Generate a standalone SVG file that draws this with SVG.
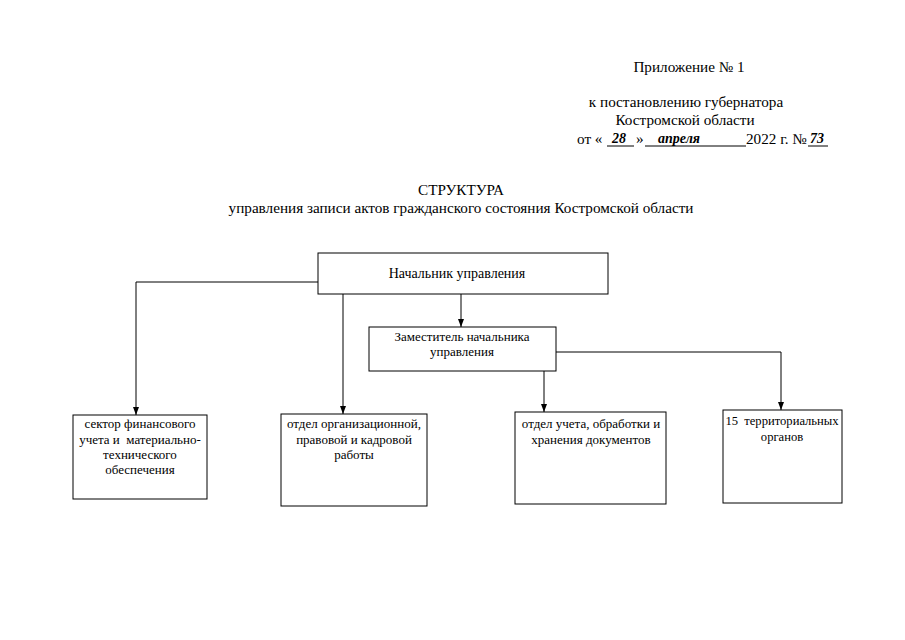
<svg xmlns="http://www.w3.org/2000/svg" width="905" height="640" viewBox="0 0 905 640" font-family="'Liberation Serif', 'Times New Roman', serif">
<style>
text{font-family:'Liberation Serif','Times New Roman',serif;fill:#000}
.h{font-size:15.2px}
.b{font-size:13px}
.hw{font-family:'Liberation Serif',serif;font-style:italic;font-size:14px;font-weight:bold}
.box{fill:#fff;stroke:#000;stroke-width:1}
.ln{fill:none;stroke:#000;stroke-width:1}
</style>
<defs>
<marker id="ar" viewBox="0 0 8 6" refX="8" refY="3" markerWidth="8" markerHeight="6" orient="auto" markerUnits="userSpaceOnUse">
<path d="M0,0 L8,3 L0,6 Z" fill="#000"/>
</marker>
</defs>
<rect width="905" height="640" fill="#fff"/>
<g id="header">
<text class="h" x="689" y="72" text-anchor="middle">Приложение № 1</text>
<text class="h" x="686" y="107" text-anchor="middle">к постановлению губернатора</text>
<text class="h" x="685" y="125" text-anchor="middle">Костромской области</text>
<text class="h" x="577" y="144">от «</text>
<text class="hw" x="612" y="143">28</text>
<line class="ln" x1="607" y1="146" x2="634" y2="146"/>
<text class="h" x="636" y="144">»</text>
<line class="ln" x1="645" y1="146" x2="746" y2="146"/>
<text class="hw" x="658" y="143">апреля</text>
<text class="h" x="746" y="144">2022 г. №</text>
<text class="hw" x="810" y="143">73</text>
<line class="ln" x1="808" y1="146" x2="828" y2="146"/>
</g>
<g id="title">
<text class="h" x="461" y="195" text-anchor="middle">СТРУКТУРА</text>
<text class="h" x="461" y="213" text-anchor="middle">управления записи актов гражданского состояния Костромской области</text>
</g>
<g id="connectors">
<polyline class="ln" points="318,282 136,282 136,415" marker-end="url(#ar)"/>
<line class="ln" x1="343" y1="294" x2="343" y2="414" marker-end="url(#ar)"/>
<line class="ln" x1="461" y1="294" x2="461" y2="327" marker-end="url(#ar)"/>
<line class="ln" x1="544" y1="371" x2="544" y2="412" marker-end="url(#ar)"/>
<polyline class="ln" points="556,352 781,352 781,410" marker-end="url(#ar)"/>
</g>
<g id="n-head">
<rect class="box" x="318" y="253" width="290" height="41"/>
<text class="b" x="457" y="278" text-anchor="middle" style="font-size:14px">Начальник управления</text>
</g>
<g id="n-deputy">
<rect class="box" x="369" y="327" width="187" height="44"/>
<text class="b" x="462" y="341" text-anchor="middle">Заместитель начальника</text>
<text class="b" x="462" y="356" text-anchor="middle">управления</text>
</g>
<g id="n-finance">
<rect class="box" x="73" y="415" width="134" height="84"/>
<text class="b" x="140" y="428" text-anchor="middle">сектор финансового</text>
<text class="b" x="140" y="444" text-anchor="middle" xml:space="preserve">учета и  материально-</text>
<text class="b" x="140" y="459" text-anchor="middle">технического</text>
<text class="b" x="140" y="474" text-anchor="middle">обеспечения</text>
</g>
<g id="n-org">
<rect class="box" x="281" y="414" width="146" height="92"/>
<text class="b" x="354" y="428" text-anchor="middle">отдел организационной,</text>
<text class="b" x="354" y="444" text-anchor="middle">правовой и кадровой</text>
<text class="b" x="354" y="459" text-anchor="middle">работы</text>
</g>
<g id="n-docs">
<rect class="box" x="515" y="412" width="151" height="92"/>
<text class="b" x="591" y="428" text-anchor="middle">отдел учета, обработки и</text>
<text class="b" x="591" y="444" text-anchor="middle">хранения документов</text>
</g>
<g id="n-terr">
<rect class="box" x="723" y="410" width="119" height="93"/>
<text class="b" x="782" y="425" text-anchor="middle" xml:space="preserve" style="font-size:12.6px">15  территориальных</text>
<text class="b" x="782" y="441" text-anchor="middle" style="font-size:12.6px">органов</text>
</g>
</svg>
